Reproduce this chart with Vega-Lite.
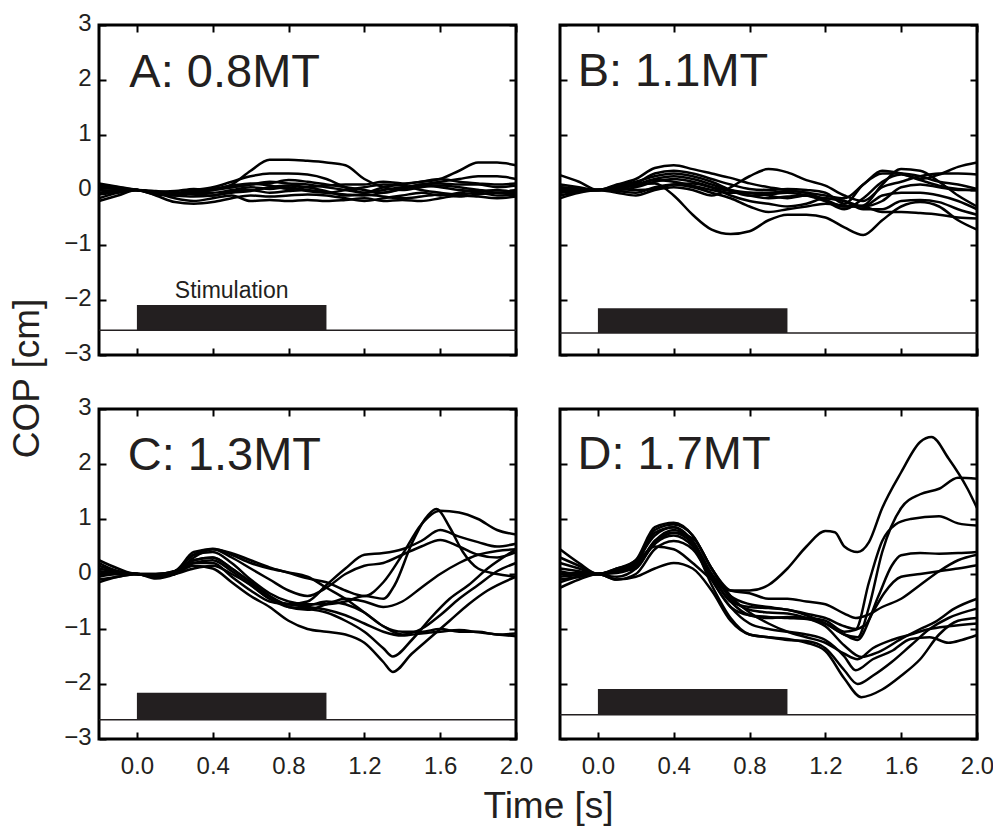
{
"$schema": "https://vega.github.io/schema/vega-lite/v6.json",
"background": "white",
"padding": {"left": 7, "top": 9, "right": 5, "bottom": 5},
"config": {
  "font": "Liberation Sans",
  "view": {"stroke": "black", "strokeWidth": 3},
  "axis": {"grid": false, "domain": false, "ticks": true, "tickColor": "black", "tickWidth": 2, "tickSize": -7, "labelFontSize": 24, "labelColor": "#231f20", "labelFlush": false, "labelOverlap": false, "titleFontSize": 37, "titleFontWeight": "normal", "titleColor": "#231f20"}
},
"bounds": "flush",
"columns": 2,
"spacing": {"row": 54, "column": 44},
"datasets": {
"a": [
{"s":1,"x":-0.2,"y":0.05},{"s":1,"x":-0.1,"y":0.02},{"s":1,"x":0,"y":0},{"s":1,"x":0.1,"y":-0.08},{"s":1,"x":0.2,"y":-0.1},{"s":1,"x":0.3,"y":-0.05},{"s":1,"x":0.4,"y":0},{"s":1,"x":0.5,"y":0.1},{"s":1,"x":0.6,"y":0.35},{"s":1,"x":0.7,"y":0.55},{"s":1,"x":0.8,"y":0.55},{"s":1,"x":0.9,"y":0.53},{"s":1,"x":1,"y":0.5},{"s":1,"x":1.1,"y":0.45},{"s":1,"x":1.2,"y":0.2},{"s":1,"x":1.3,"y":0.05},{"s":1,"x":1.4,"y":0},{"s":1,"x":1.5,"y":0.05},{"s":1,"x":1.6,"y":0.08},{"s":1,"x":1.7,"y":0.05},{"s":1,"x":1.8,"y":0},{"s":1,"x":1.9,"y":-0.05},{"s":1,"x":2,"y":-0.05},
{"s":2,"x":-0.2,"y":-0.05},{"s":2,"x":-0.1,"y":-0.02},{"s":2,"x":0,"y":0},{"s":2,"x":0.1,"y":-0.05},{"s":2,"x":0.2,"y":-0.08},{"s":2,"x":0.3,"y":0},{"s":2,"x":0.4,"y":0.02},{"s":2,"x":0.5,"y":0.05},{"s":2,"x":0.6,"y":0.1},{"s":2,"x":0.7,"y":0.15},{"s":2,"x":0.8,"y":0.12},{"s":2,"x":0.9,"y":0.1},{"s":2,"x":1,"y":0.05},{"s":2,"x":1.1,"y":0},{"s":2,"x":1.2,"y":-0.05},{"s":2,"x":1.3,"y":0.05},{"s":2,"x":1.4,"y":0.1},{"s":2,"x":1.5,"y":0.15},{"s":2,"x":1.6,"y":0.2},{"s":2,"x":1.7,"y":0.35},{"s":2,"x":1.8,"y":0.5},{"s":2,"x":1.9,"y":0.5},{"s":2,"x":2,"y":0.45},
{"s":3,"x":-0.2,"y":0.1},{"s":3,"x":-0.1,"y":0.05},{"s":3,"x":0,"y":0},{"s":3,"x":0.1,"y":-0.05},{"s":3,"x":0.2,"y":-0.05},{"s":3,"x":0.3,"y":0},{"s":3,"x":0.4,"y":0.05},{"s":3,"x":0.5,"y":0.15},{"s":3,"x":0.6,"y":0.25},{"s":3,"x":0.7,"y":0.3},{"s":3,"x":0.8,"y":0.3},{"s":3,"x":0.9,"y":0.28},{"s":3,"x":1,"y":0.2},{"s":3,"x":1.1,"y":0.05},{"s":3,"x":1.2,"y":-0.05},{"s":3,"x":1.3,"y":0},{"s":3,"x":1.4,"y":0.05},{"s":3,"x":1.5,"y":0.1},{"s":3,"x":1.6,"y":0.15},{"s":3,"x":1.7,"y":0.2},{"s":3,"x":1.8,"y":0.25},{"s":3,"x":1.9,"y":0.25},{"s":3,"x":2,"y":0.2},
{"s":4,"x":-0.2,"y":-0.15},{"s":4,"x":-0.1,"y":-0.05},{"s":4,"x":0,"y":0},{"s":4,"x":0.1,"y":-0.1},{"s":4,"x":0.2,"y":-0.22},{"s":4,"x":0.3,"y":-0.25},{"s":4,"x":0.4,"y":-0.22},{"s":4,"x":0.5,"y":-0.15},{"s":4,"x":0.6,"y":-0.1},{"s":4,"x":0.7,"y":-0.12},{"s":4,"x":0.8,"y":-0.1},{"s":4,"x":0.9,"y":-0.08},{"s":4,"x":1,"y":-0.1},{"s":4,"x":1.1,"y":-0.15},{"s":4,"x":1.2,"y":-0.2},{"s":4,"x":1.3,"y":-0.15},{"s":4,"x":1.4,"y":-0.1},{"s":4,"x":1.5,"y":-0.05},{"s":4,"x":1.6,"y":-0.1},{"s":4,"x":1.7,"y":-0.05},{"s":4,"x":1.8,"y":0},{"s":4,"x":1.9,"y":-0.05},{"s":4,"x":2,"y":0},
{"s":5,"x":-0.2,"y":-0.2},{"s":5,"x":-0.1,"y":-0.1},{"s":5,"x":0,"y":0},{"s":5,"x":0.1,"y":-0.05},{"s":5,"x":0.2,"y":-0.15},{"s":5,"x":0.3,"y":-0.2},{"s":5,"x":0.4,"y":-0.15},{"s":5,"x":0.5,"y":-0.1},{"s":5,"x":0.6,"y":-0.2},{"s":5,"x":0.7,"y":-0.18},{"s":5,"x":0.8,"y":-0.2},{"s":5,"x":0.9,"y":-0.18},{"s":5,"x":1,"y":-0.2},{"s":5,"x":1.1,"y":-0.18},{"s":5,"x":1.2,"y":-0.15},{"s":5,"x":1.3,"y":-0.2},{"s":5,"x":1.4,"y":-0.18},{"s":5,"x":1.5,"y":-0.2},{"s":5,"x":1.6,"y":-0.15},{"s":5,"x":1.7,"y":-0.1},{"s":5,"x":1.8,"y":-0.12},{"s":5,"x":1.9,"y":-0.15},{"s":5,"x":2,"y":-0.12},
{"s":6,"x":-0.2,"y":0.08},{"s":6,"x":-0.1,"y":0.03},{"s":6,"x":0,"y":0},{"s":6,"x":0.1,"y":-0.03},{"s":6,"x":0.2,"y":-0.02},{"s":6,"x":0.3,"y":0.02},{"s":6,"x":0.4,"y":0},{"s":6,"x":0.5,"y":0.05},{"s":6,"x":0.6,"y":0.1},{"s":6,"x":0.7,"y":0.12},{"s":6,"x":0.8,"y":0.18},{"s":6,"x":0.9,"y":0.15},{"s":6,"x":1,"y":0.1},{"s":6,"x":1.1,"y":0.05},{"s":6,"x":1.2,"y":0},{"s":6,"x":1.3,"y":-0.05},{"s":6,"x":1.4,"y":0.02},{"s":6,"x":1.5,"y":0.08},{"s":6,"x":1.6,"y":0.05},{"s":6,"x":1.7,"y":0},{"s":6,"x":1.8,"y":-0.02},{"s":6,"x":1.9,"y":0},{"s":6,"x":2,"y":-0.05},
{"s":7,"x":-0.2,"y":0},{"s":7,"x":-0.1,"y":-0.02},{"s":7,"x":0,"y":0},{"s":7,"x":0.1,"y":-0.02},{"s":7,"x":0.2,"y":-0.05},{"s":7,"x":0.3,"y":-0.08},{"s":7,"x":0.4,"y":-0.1},{"s":7,"x":0.5,"y":-0.02},{"s":7,"x":0.6,"y":0},{"s":7,"x":0.7,"y":-0.05},{"s":7,"x":0.8,"y":-0.02},{"s":7,"x":0.9,"y":0},{"s":7,"x":1,"y":-0.05},{"s":7,"x":1.1,"y":-0.08},{"s":7,"x":1.2,"y":-0.1},{"s":7,"x":1.3,"y":-0.05},{"s":7,"x":1.4,"y":0.02},{"s":7,"x":1.5,"y":0.1},{"s":7,"x":1.6,"y":0.12},{"s":7,"x":1.7,"y":0.1},{"s":7,"x":1.8,"y":0.1},{"s":7,"x":1.9,"y":0.05},{"s":7,"x":2,"y":0.08},
{"s":8,"x":-0.2,"y":0.12},{"s":8,"x":-0.1,"y":0.06},{"s":8,"x":0,"y":0},{"s":8,"x":0.1,"y":-0.05},{"s":8,"x":0.2,"y":-0.08},{"s":8,"x":0.3,"y":-0.05},{"s":8,"x":0.4,"y":-0.05},{"s":8,"x":0.5,"y":0},{"s":8,"x":0.6,"y":0.05},{"s":8,"x":0.7,"y":0.02},{"s":8,"x":0.8,"y":0.05},{"s":8,"x":0.9,"y":-0.02},{"s":8,"x":1,"y":-0.05},{"s":8,"x":1.1,"y":0},{"s":8,"x":1.2,"y":0.05},{"s":8,"x":1.3,"y":0.1},{"s":8,"x":1.4,"y":0.08},{"s":8,"x":1.5,"y":0},{"s":8,"x":1.6,"y":-0.05},{"s":8,"x":1.7,"y":-0.08},{"s":8,"x":1.8,"y":-0.05},{"s":8,"x":1.9,"y":-0.1},{"s":8,"x":2,"y":-0.08},
{"s":9,"x":-0.2,"y":-0.08},{"s":9,"x":-0.1,"y":-0.04},{"s":9,"x":0,"y":0},{"s":9,"x":0.1,"y":-0.06},{"s":9,"x":0.2,"y":-0.1},{"s":9,"x":0.3,"y":-0.12},{"s":9,"x":0.4,"y":-0.1},{"s":9,"x":0.5,"y":-0.05},{"s":9,"x":0.6,"y":-0.02},{"s":9,"x":0.7,"y":0.05},{"s":9,"x":0.8,"y":0.08},{"s":9,"x":0.9,"y":0.05},{"s":9,"x":1,"y":-0.02},{"s":9,"x":1.1,"y":-0.1},{"s":9,"x":1.2,"y":-0.08},{"s":9,"x":1.3,"y":-0.12},{"s":9,"x":1.4,"y":-0.15},{"s":9,"x":1.5,"y":-0.12},{"s":9,"x":1.6,"y":-0.08},{"s":9,"x":1.7,"y":-0.12},{"s":9,"x":1.8,"y":-0.08},{"s":9,"x":1.9,"y":-0.05},{"s":9,"x":2,"y":-0.1},
{"s":10,"x":-0.2,"y":0.03},{"s":10,"x":-0.1,"y":0.02},{"s":10,"x":0,"y":0},{"s":10,"x":0.1,"y":-0.04},{"s":10,"x":0.2,"y":-0.06},{"s":10,"x":0.3,"y":-0.03},{"s":10,"x":0.4,"y":0.02},{"s":10,"x":0.5,"y":0.08},{"s":10,"x":0.6,"y":0.12},{"s":10,"x":0.7,"y":0.08},{"s":10,"x":0.8,"y":0.02},{"s":10,"x":0.9,"y":0.05},{"s":10,"x":1,"y":0.08},{"s":10,"x":1.1,"y":0.1},{"s":10,"x":1.2,"y":0.1},{"s":10,"x":1.3,"y":0.15},{"s":10,"x":1.4,"y":0.12},{"s":10,"x":1.5,"y":0.15},{"s":10,"x":1.6,"y":0.2},{"s":10,"x":1.7,"y":0.15},{"s":10,"x":1.8,"y":0.12},{"s":10,"x":1.9,"y":0.1},{"s":10,"x":2,"y":0.12}
],
"b": [
{"s":1,"x":-0.2,"y":0.05},{"s":1,"x":-0.1,"y":0.02},{"s":1,"x":0,"y":0},{"s":1,"x":0.1,"y":0.1},{"s":1,"x":0.2,"y":0.2},{"s":1,"x":0.3,"y":0.4},{"s":1,"x":0.4,"y":0.45},{"s":1,"x":0.5,"y":0.38},{"s":1,"x":0.6,"y":0.3},{"s":1,"x":0.7,"y":0.22},{"s":1,"x":0.8,"y":0.12},{"s":1,"x":0.9,"y":0.05},{"s":1,"x":1,"y":0},{"s":1,"x":1.1,"y":-0.05},{"s":1,"x":1.2,"y":-0.1},{"s":1,"x":1.3,"y":-0.15},{"s":1,"x":1.4,"y":0.1},{"s":1,"x":1.5,"y":0.35},{"s":1,"x":1.6,"y":0.3},{"s":1,"x":1.7,"y":0.2},{"s":1,"x":1.8,"y":0.28},{"s":1,"x":1.9,"y":0.42},{"s":1,"x":2,"y":0.5},
{"s":2,"x":-0.2,"y":0},{"s":2,"x":-0.1,"y":0},{"s":2,"x":0,"y":0},{"s":2,"x":0.1,"y":0.05},{"s":2,"x":0.2,"y":0.1},{"s":2,"x":0.3,"y":0.12},{"s":2,"x":0.4,"y":-0.1},{"s":2,"x":0.5,"y":-0.45},{"s":2,"x":0.6,"y":-0.72},{"s":2,"x":0.7,"y":-0.8},{"s":2,"x":0.8,"y":-0.75},{"s":2,"x":0.9,"y":-0.55},{"s":2,"x":1,"y":-0.45},{"s":2,"x":1.1,"y":-0.45},{"s":2,"x":1.2,"y":-0.5},{"s":2,"x":1.3,"y":-0.68},{"s":2,"x":1.4,"y":-0.82},{"s":2,"x":1.5,"y":-0.55},{"s":2,"x":1.6,"y":-0.3},{"s":2,"x":1.7,"y":-0.22},{"s":2,"x":1.8,"y":-0.3},{"s":2,"x":1.9,"y":-0.55},{"s":2,"x":2,"y":-0.72},
{"s":3,"x":-0.2,"y":-0.15},{"s":3,"x":-0.1,"y":-0.05},{"s":3,"x":0,"y":0},{"s":3,"x":0.1,"y":-0.05},{"s":3,"x":0.2,"y":-0.1},{"s":3,"x":0.3,"y":0},{"s":3,"x":0.4,"y":0.05},{"s":3,"x":0.5,"y":0},{"s":3,"x":0.6,"y":-0.1},{"s":3,"x":0.7,"y":0.05},{"s":3,"x":0.8,"y":0.25},{"s":3,"x":0.9,"y":0.38},{"s":3,"x":1,"y":0.32},{"s":3,"x":1.1,"y":0.18},{"s":3,"x":1.2,"y":0.08},{"s":3,"x":1.3,"y":-0.1},{"s":3,"x":1.4,"y":-0.2},{"s":3,"x":1.5,"y":0.05},{"s":3,"x":1.6,"y":0.15},{"s":3,"x":1.7,"y":0.25},{"s":3,"x":1.8,"y":0.3},{"s":3,"x":1.9,"y":0.3},{"s":3,"x":2,"y":0.28},
{"s":4,"x":-0.2,"y":0.27},{"s":4,"x":-0.1,"y":0.15},{"s":4,"x":0,"y":0},{"s":4,"x":0.1,"y":0.08},{"s":4,"x":0.2,"y":0.15},{"s":4,"x":0.3,"y":0.25},{"s":4,"x":0.4,"y":0.3},{"s":4,"x":0.5,"y":0.25},{"s":4,"x":0.6,"y":0.15},{"s":4,"x":0.7,"y":0},{"s":4,"x":0.8,"y":-0.1},{"s":4,"x":0.9,"y":-0.15},{"s":4,"x":1,"y":-0.12},{"s":4,"x":1.1,"y":-0.1},{"s":4,"x":1.2,"y":-0.18},{"s":4,"x":1.3,"y":-0.3},{"s":4,"x":1.4,"y":-0.28},{"s":4,"x":1.5,"y":0.1},{"s":4,"x":1.6,"y":0.38},{"s":4,"x":1.7,"y":0.35},{"s":4,"x":1.8,"y":0.15},{"s":4,"x":1.9,"y":-0.1},{"s":4,"x":2,"y":-0.3},
{"s":5,"x":-0.2,"y":-0.05},{"s":5,"x":-0.1,"y":0},{"s":5,"x":0,"y":0},{"s":5,"x":0.1,"y":0.05},{"s":5,"x":0.2,"y":0.1},{"s":5,"x":0.3,"y":0.2},{"s":5,"x":0.4,"y":0.25},{"s":5,"x":0.5,"y":0.2},{"s":5,"x":0.6,"y":0.1},{"s":5,"x":0.7,"y":0},{"s":5,"x":0.8,"y":-0.05},{"s":5,"x":0.9,"y":-0.1},{"s":5,"x":1,"y":-0.15},{"s":5,"x":1.1,"y":-0.1},{"s":5,"x":1.2,"y":-0.15},{"s":5,"x":1.3,"y":-0.2},{"s":5,"x":1.4,"y":-0.3},{"s":5,"x":1.5,"y":-0.2},{"s":5,"x":1.6,"y":0.05},{"s":5,"x":1.7,"y":0.1},{"s":5,"x":1.8,"y":0.05},{"s":5,"x":1.9,"y":0},{"s":5,"x":2,"y":0},
{"s":6,"x":-0.2,"y":0.05},{"s":6,"x":-0.1,"y":0.02},{"s":6,"x":0,"y":0},{"s":6,"x":0.1,"y":0},{"s":6,"x":0.2,"y":0.05},{"s":6,"x":0.3,"y":0.15},{"s":6,"x":0.4,"y":0.2},{"s":6,"x":0.5,"y":0.15},{"s":6,"x":0.6,"y":0.05},{"s":6,"x":0.7,"y":-0.1},{"s":6,"x":0.8,"y":-0.2},{"s":6,"x":0.9,"y":-0.25},{"s":6,"x":1,"y":-0.3},{"s":6,"x":1.1,"y":-0.25},{"s":6,"x":1.2,"y":-0.15},{"s":6,"x":1.3,"y":-0.2},{"s":6,"x":1.4,"y":-0.35},{"s":6,"x":1.5,"y":-0.35},{"s":6,"x":1.6,"y":-0.2},{"s":6,"x":1.7,"y":-0.18},{"s":6,"x":1.8,"y":-0.22},{"s":6,"x":1.9,"y":-0.35},{"s":6,"x":2,"y":-0.45},
{"s":7,"x":-0.2,"y":-0.1},{"s":7,"x":-0.1,"y":-0.03},{"s":7,"x":0,"y":0},{"s":7,"x":0.1,"y":-0.02},{"s":7,"x":0.2,"y":-0.05},{"s":7,"x":0.3,"y":0.05},{"s":7,"x":0.4,"y":0.1},{"s":7,"x":0.5,"y":0.05},{"s":7,"x":0.6,"y":-0.05},{"s":7,"x":0.7,"y":-0.15},{"s":7,"x":0.8,"y":-0.3},{"s":7,"x":0.9,"y":-0.4},{"s":7,"x":1,"y":-0.35},{"s":7,"x":1.1,"y":-0.3},{"s":7,"x":1.2,"y":-0.25},{"s":7,"x":1.3,"y":-0.28},{"s":7,"x":1.4,"y":-0.3},{"s":7,"x":1.5,"y":-0.4},{"s":7,"x":1.6,"y":-0.4},{"s":7,"x":1.7,"y":-0.42},{"s":7,"x":1.8,"y":-0.45},{"s":7,"x":1.9,"y":-0.5},{"s":7,"x":2,"y":-0.52},
{"s":8,"x":-0.2,"y":0.1},{"s":8,"x":-0.1,"y":0.05},{"s":8,"x":0,"y":0},{"s":8,"x":0.1,"y":0.03},{"s":8,"x":0.2,"y":0.08},{"s":8,"x":0.3,"y":0.18},{"s":8,"x":0.4,"y":0.15},{"s":8,"x":0.5,"y":0.08},{"s":8,"x":0.6,"y":0},{"s":8,"x":0.7,"y":-0.05},{"s":8,"x":0.8,"y":-0.05},{"s":8,"x":0.9,"y":-0.05},{"s":8,"x":1,"y":-0.02},{"s":8,"x":1.1,"y":-0.05},{"s":8,"x":1.2,"y":-0.2},{"s":8,"x":1.3,"y":-0.35},{"s":8,"x":1.4,"y":-0.15},{"s":8,"x":1.5,"y":0.15},{"s":8,"x":1.6,"y":0.28},{"s":8,"x":1.7,"y":0.18},{"s":8,"x":1.8,"y":0.08},{"s":8,"x":1.9,"y":0.02},{"s":8,"x":2,"y":0},
{"s":9,"x":-0.2,"y":-0.05},{"s":9,"x":-0.1,"y":-0.02},{"s":9,"x":0,"y":0},{"s":9,"x":0.1,"y":0.02},{"s":9,"x":0.2,"y":0},{"s":9,"x":0.3,"y":0.02},{"s":9,"x":0.4,"y":0.1},{"s":9,"x":0.5,"y":0.12},{"s":9,"x":0.6,"y":0.05},{"s":9,"x":0.7,"y":-0.02},{"s":9,"x":0.8,"y":-0.1},{"s":9,"x":0.9,"y":-0.08},{"s":9,"x":1,"y":-0.05},{"s":9,"x":1.1,"y":-0.1},{"s":9,"x":1.2,"y":-0.2},{"s":9,"x":1.3,"y":-0.3},{"s":9,"x":1.4,"y":-0.3},{"s":9,"x":1.5,"y":-0.1},{"s":9,"x":1.6,"y":-0.05},{"s":9,"x":1.7,"y":-0.05},{"s":9,"x":1.8,"y":-0.1},{"s":9,"x":1.9,"y":-0.2},{"s":9,"x":2,"y":-0.35},
{"s":10,"x":-0.2,"y":0.02},{"s":10,"x":-0.1,"y":0},{"s":10,"x":0,"y":0},{"s":10,"x":0.1,"y":0.05},{"s":10,"x":0.2,"y":0.12},{"s":10,"x":0.3,"y":0.3},{"s":10,"x":0.4,"y":0.35},{"s":10,"x":0.5,"y":0.3},{"s":10,"x":0.6,"y":0.2},{"s":10,"x":0.7,"y":0.1},{"s":10,"x":0.8,"y":0.02},{"s":10,"x":0.9,"y":0},{"s":10,"x":1,"y":0.02},{"s":10,"x":1.1,"y":0},{"s":10,"x":1.2,"y":-0.05},{"s":10,"x":1.3,"y":-0.25},{"s":10,"x":1.4,"y":0.1},{"s":10,"x":1.5,"y":0.3},{"s":10,"x":1.6,"y":0.3},{"s":10,"x":1.7,"y":0.25},{"s":10,"x":1.8,"y":0.15},{"s":10,"x":1.9,"y":0.1},{"s":10,"x":2,"y":0.02}
],
"c": [
{"s":1,"x":-0.2,"y":0.2},{"s":1,"x":-0.1,"y":0.05},{"s":1,"x":0,"y":0},{"s":1,"x":0.1,"y":-0.02},{"s":1,"x":0.2,"y":0.05},{"s":1,"x":0.3,"y":0.35},{"s":1,"x":0.4,"y":0.4},{"s":1,"x":0.5,"y":0.2},{"s":1,"x":0.6,"y":-0.1},{"s":1,"x":0.7,"y":-0.35},{"s":1,"x":0.8,"y":-0.5},{"s":1,"x":0.9,"y":-0.55},{"s":1,"x":1,"y":-0.55},{"s":1,"x":1.1,"y":-0.5},{"s":1,"x":1.2,"y":-0.4},{"s":1,"x":1.3,"y":-0.45},{"s":1,"x":1.36,"y":-0.2},{"s":1,"x":1.45,"y":0.55},{"s":1,"x":1.52,"y":1.0},{"s":1,"x":1.58,"y":1.18},{"s":1,"x":1.65,"y":0.85},{"s":1,"x":1.72,"y":0.4},{"s":1,"x":1.8,"y":0.1},{"s":1,"x":1.9,"y":0},{"s":1,"x":2,"y":-0.05},
{"s":2,"x":-0.2,"y":0},{"s":2,"x":-0.1,"y":0},{"s":2,"x":0,"y":0},{"s":2,"x":0.1,"y":-0.05},{"s":2,"x":0.2,"y":0},{"s":2,"x":0.3,"y":0.3},{"s":2,"x":0.4,"y":0.45},{"s":2,"x":0.5,"y":0.38},{"s":2,"x":0.6,"y":0.25},{"s":2,"x":0.7,"y":0.12},{"s":2,"x":0.8,"y":0.02},{"s":2,"x":0.9,"y":-0.08},{"s":2,"x":1,"y":-0.15},{"s":2,"x":1.1,"y":-0.3},{"s":2,"x":1.2,"y":-0.4},{"s":2,"x":1.3,"y":-0.15},{"s":2,"x":1.4,"y":0.35},{"s":2,"x":1.5,"y":0.9},{"s":2,"x":1.6,"y":1.15},{"s":2,"x":1.7,"y":1.12},{"s":2,"x":1.8,"y":1.0},{"s":2,"x":1.9,"y":0.8},{"s":2,"x":2,"y":0.72},
{"s":3,"x":-0.2,"y":-0.1},{"s":3,"x":-0.1,"y":-0.05},{"s":3,"x":0,"y":0},{"s":3,"x":0.1,"y":-0.05},{"s":3,"x":0.2,"y":0},{"s":3,"x":0.3,"y":0.15},{"s":3,"x":0.4,"y":0.1},{"s":3,"x":0.5,"y":-0.15},{"s":3,"x":0.6,"y":-0.4},{"s":3,"x":0.7,"y":-0.6},{"s":3,"x":0.8,"y":-0.85},{"s":3,"x":0.9,"y":-1.0},{"s":3,"x":1,"y":-1.05},{"s":3,"x":1.1,"y":-1.1},{"s":3,"x":1.2,"y":-1.25},{"s":3,"x":1.3,"y":-1.6},{"s":3,"x":1.35,"y":-1.78},{"s":3,"x":1.45,"y":-1.45},{"s":3,"x":1.55,"y":-1.15},{"s":3,"x":1.65,"y":-0.85},{"s":3,"x":1.75,"y":-0.55},{"s":3,"x":1.85,"y":-0.3},{"s":3,"x":2,"y":-0.05},
{"s":4,"x":-0.2,"y":0.05},{"s":4,"x":-0.1,"y":0.02},{"s":4,"x":0,"y":0},{"s":4,"x":0.1,"y":-0.05},{"s":4,"x":0.2,"y":0.02},{"s":4,"x":0.3,"y":0.2},{"s":4,"x":0.4,"y":0.25},{"s":4,"x":0.5,"y":0.05},{"s":4,"x":0.6,"y":-0.2},{"s":4,"x":0.7,"y":-0.45},{"s":4,"x":0.8,"y":-0.6},{"s":4,"x":0.9,"y":-0.63},{"s":4,"x":1,"y":-0.7},{"s":4,"x":1.1,"y":-0.85},{"s":4,"x":1.2,"y":-1.05},{"s":4,"x":1.3,"y":-1.35},{"s":4,"x":1.35,"y":-1.5},{"s":4,"x":1.45,"y":-1.2},{"s":4,"x":1.55,"y":-0.8},{"s":4,"x":1.65,"y":-0.45},{"s":4,"x":1.75,"y":-0.2},{"s":4,"x":1.85,"y":0.1},{"s":4,"x":2,"y":0.45},
{"s":5,"x":-0.2,"y":0.15},{"s":5,"x":-0.1,"y":0.05},{"s":5,"x":0,"y":0},{"s":5,"x":0.1,"y":0},{"s":5,"x":0.2,"y":0.05},{"s":5,"x":0.3,"y":0.35},{"s":5,"x":0.4,"y":0.46},{"s":5,"x":0.5,"y":0.35},{"s":5,"x":0.6,"y":0.2},{"s":5,"x":0.7,"y":0.1},{"s":5,"x":0.8,"y":0.03},{"s":5,"x":0.9,"y":-0.05},{"s":5,"x":1,"y":-0.25},{"s":5,"x":1.1,"y":-0.45},{"s":5,"x":1.2,"y":-0.7},{"s":5,"x":1.3,"y":-0.95},{"s":5,"x":1.4,"y":-1.05},{"s":5,"x":1.5,"y":-1.05},{"s":5,"x":1.6,"y":-1.0},{"s":5,"x":1.7,"y":-1.05},{"s":5,"x":1.8,"y":-1.05},{"s":5,"x":1.9,"y":-1.1},{"s":5,"x":2,"y":-1.08},
{"s":6,"x":-0.2,"y":-0.05},{"s":6,"x":-0.1,"y":0},{"s":6,"x":0,"y":0},{"s":6,"x":0.1,"y":-0.08},{"s":6,"x":0.2,"y":0},{"s":6,"x":0.3,"y":0.2},{"s":6,"x":0.4,"y":0.2},{"s":6,"x":0.5,"y":-0.05},{"s":6,"x":0.6,"y":-0.3},{"s":6,"x":0.7,"y":-0.5},{"s":6,"x":0.8,"y":-0.55},{"s":6,"x":0.9,"y":-0.6},{"s":6,"x":1,"y":-0.65},{"s":6,"x":1.1,"y":-0.75},{"s":6,"x":1.2,"y":-0.9},{"s":6,"x":1.3,"y":-1.05},{"s":6,"x":1.4,"y":-1.12},{"s":6,"x":1.5,"y":-1.08},{"s":6,"x":1.6,"y":-1.05},{"s":6,"x":1.7,"y":-1.02},{"s":6,"x":1.8,"y":-1.06},{"s":6,"x":1.9,"y":-1.1},{"s":6,"x":2,"y":-1.13},
{"s":7,"x":-0.2,"y":0.1},{"s":7,"x":-0.1,"y":0.03},{"s":7,"x":0,"y":0},{"s":7,"x":0.1,"y":-0.05},{"s":7,"x":0.2,"y":0.05},{"s":7,"x":0.3,"y":0.25},{"s":7,"x":0.4,"y":0.3},{"s":7,"x":0.5,"y":0.1},{"s":7,"x":0.6,"y":-0.15},{"s":7,"x":0.7,"y":-0.4},{"s":7,"x":0.8,"y":-0.55},{"s":7,"x":0.9,"y":-0.5},{"s":7,"x":1,"y":-0.2},{"s":7,"x":1.1,"y":0.1},{"s":7,"x":1.2,"y":0.35},{"s":7,"x":1.3,"y":0.38},{"s":7,"x":1.4,"y":0.45},{"s":7,"x":1.5,"y":0.6},{"s":7,"x":1.6,"y":0.8},{"s":7,"x":1.7,"y":0.68},{"s":7,"x":1.8,"y":0.58},{"s":7,"x":1.9,"y":0.5},{"s":7,"x":2,"y":0.55},
{"s":8,"x":-0.2,"y":0.25},{"s":8,"x":-0.1,"y":0.1},{"s":8,"x":0,"y":0},{"s":8,"x":0.1,"y":0},{"s":8,"x":0.2,"y":0.05},{"s":8,"x":0.3,"y":0.4},{"s":8,"x":0.4,"y":0.45},{"s":8,"x":0.5,"y":0.3},{"s":8,"x":0.6,"y":0.1},{"s":8,"x":0.7,"y":-0.1},{"s":8,"x":0.8,"y":-0.3},{"s":8,"x":0.9,"y":-0.4},{"s":8,"x":1,"y":-0.25},{"s":8,"x":1.1,"y":0},{"s":8,"x":1.2,"y":0.15},{"s":8,"x":1.3,"y":0.2},{"s":8,"x":1.4,"y":0.35},{"s":8,"x":1.5,"y":0.5},{"s":8,"x":1.6,"y":0.62},{"s":8,"x":1.7,"y":0.5},{"s":8,"x":1.8,"y":0.35},{"s":8,"x":1.9,"y":0.3},{"s":8,"x":2,"y":0.4},
{"s":9,"x":-0.2,"y":-0.15},{"s":9,"x":-0.1,"y":-0.05},{"s":9,"x":0,"y":0},{"s":9,"x":0.1,"y":-0.05},{"s":9,"x":0.2,"y":0},{"s":9,"x":0.3,"y":0.1},{"s":9,"x":0.4,"y":0.15},{"s":9,"x":0.5,"y":0},{"s":9,"x":0.6,"y":-0.2},{"s":9,"x":0.7,"y":-0.45},{"s":9,"x":0.8,"y":-0.55},{"s":9,"x":0.9,"y":-0.57},{"s":9,"x":1,"y":-0.5},{"s":9,"x":1.1,"y":-0.55},{"s":9,"x":1.2,"y":-0.7},{"s":9,"x":1.3,"y":-0.95},{"s":9,"x":1.4,"y":-1.1},{"s":9,"x":1.5,"y":-1.0},{"s":9,"x":1.6,"y":-0.75},{"s":9,"x":1.7,"y":-0.45},{"s":9,"x":1.8,"y":-0.2},{"s":9,"x":1.9,"y":0.05},{"s":9,"x":2,"y":0.2},
{"s":10,"x":-0.2,"y":0.05},{"s":10,"x":-0.1,"y":0},{"s":10,"x":0,"y":0},{"s":10,"x":0.1,"y":-0.03},{"s":10,"x":0.2,"y":0.02},{"s":10,"x":0.3,"y":0.25},{"s":10,"x":0.4,"y":0.3},{"s":10,"x":0.5,"y":0.1},{"s":10,"x":0.6,"y":-0.15},{"s":10,"x":0.7,"y":-0.4},{"s":10,"x":0.8,"y":-0.6},{"s":10,"x":0.9,"y":-0.65},{"s":10,"x":1,"y":-0.55},{"s":10,"x":1.1,"y":-0.45},{"s":10,"x":1.2,"y":-0.5},{"s":10,"x":1.3,"y":-0.6},{"s":10,"x":1.4,"y":-0.5},{"s":10,"x":1.5,"y":-0.25},{"s":10,"x":1.6,"y":0},{"s":10,"x":1.7,"y":0.2},{"s":10,"x":1.8,"y":0.35},{"s":10,"x":1.9,"y":0.42},{"s":10,"x":2,"y":0.45}
],
"d": [
{"s":1,"x":-0.2,"y":0.45},{"s":1,"x":-0.1,"y":0.2},{"s":1,"x":0,"y":0},{"s":1,"x":0.1,"y":0.05},{"s":1,"x":0.2,"y":0.2},{"s":1,"x":0.3,"y":0.5},{"s":1,"x":0.4,"y":0.45},{"s":1,"x":0.5,"y":0.2},{"s":1,"x":0.6,"y":-0.1},{"s":1,"x":0.7,"y":-0.3},{"s":1,"x":0.8,"y":-0.3},{"s":1,"x":0.9,"y":-0.2},{"s":1,"x":1,"y":0.1},{"s":1,"x":1.1,"y":0.5},{"s":1,"x":1.2,"y":0.78},{"s":1,"x":1.25,"y":0.76},{"s":1,"x":1.3,"y":0.5},{"s":1,"x":1.37,"y":0.4},{"s":1,"x":1.43,"y":0.58},{"s":1,"x":1.5,"y":1.2},{"s":1,"x":1.6,"y":1.85},{"s":1,"x":1.7,"y":2.4},{"s":1,"x":1.76,"y":2.49},{"s":1,"x":1.85,"y":2.1},{"s":1,"x":1.95,"y":1.55},{"s":1,"x":2,"y":1.2},
{"s":2,"x":-0.2,"y":0},{"s":2,"x":-0.1,"y":0.02},{"s":2,"x":0,"y":0},{"s":2,"x":0.1,"y":0.1},{"s":2,"x":0.2,"y":0.25},{"s":2,"x":0.3,"y":0.7},{"s":2,"x":0.4,"y":0.85},{"s":2,"x":0.5,"y":0.6},{"s":2,"x":0.6,"y":0},{"s":2,"x":0.7,"y":-0.5},{"s":2,"x":0.8,"y":-0.6},{"s":2,"x":0.9,"y":-0.62},{"s":2,"x":1,"y":-0.65},{"s":2,"x":1.1,"y":-0.75},{"s":2,"x":1.2,"y":-0.9},{"s":2,"x":1.3,"y":-1.1},{"s":2,"x":1.37,"y":-1.15},{"s":2,"x":1.43,"y":-0.6},{"s":2,"x":1.5,"y":0.4},{"s":2,"x":1.6,"y":1.2},{"s":2,"x":1.7,"y":1.45},{"s":2,"x":1.8,"y":1.55},{"s":2,"x":1.9,"y":1.75},{"s":2,"x":2,"y":1.73},
{"s":3,"x":-0.2,"y":-0.05},{"s":3,"x":-0.1,"y":-0.02},{"s":3,"x":0,"y":0},{"s":3,"x":0.1,"y":0.05},{"s":3,"x":0.2,"y":0.15},{"s":3,"x":0.3,"y":0.6},{"s":3,"x":0.4,"y":0.75},{"s":3,"x":0.5,"y":0.55},{"s":3,"x":0.6,"y":0},{"s":3,"x":0.7,"y":-0.4},{"s":3,"x":0.8,"y":-0.55},{"s":3,"x":0.9,"y":-0.6},{"s":3,"x":1,"y":-0.65},{"s":3,"x":1.1,"y":-0.72},{"s":3,"x":1.2,"y":-0.8},{"s":3,"x":1.3,"y":-0.95},{"s":3,"x":1.36,"y":-1.0},{"s":3,"x":1.43,"y":-0.15},{"s":3,"x":1.5,"y":0.6},{"s":3,"x":1.57,"y":0.9},{"s":3,"x":1.65,"y":1.0},{"s":3,"x":1.8,"y":1.05},{"s":3,"x":1.9,"y":0.92},{"s":3,"x":2,"y":0.88},
{"s":4,"x":-0.2,"y":0.1},{"s":4,"x":-0.1,"y":0.05},{"s":4,"x":0,"y":0},{"s":4,"x":0.1,"y":-0.05},{"s":4,"x":0.2,"y":0.1},{"s":4,"x":0.3,"y":0.55},{"s":4,"x":0.4,"y":0.7},{"s":4,"x":0.5,"y":0.5},{"s":4,"x":0.6,"y":-0.05},{"s":4,"x":0.7,"y":-0.5},{"s":4,"x":0.8,"y":-0.75},{"s":4,"x":0.9,"y":-0.8},{"s":4,"x":1,"y":-0.78},{"s":4,"x":1.1,"y":-0.8},{"s":4,"x":1.2,"y":-0.85},{"s":4,"x":1.3,"y":-1.05},{"s":4,"x":1.41,"y":-0.93},{"s":4,"x":1.48,"y":-0.4},{"s":4,"x":1.55,"y":0.15},{"s":4,"x":1.6,"y":0.34},{"s":4,"x":1.7,"y":0.38},{"s":4,"x":1.8,"y":0.37},{"s":4,"x":1.9,"y":0.38},{"s":4,"x":2,"y":0.4},
{"s":5,"x":-0.2,"y":-0.15},{"s":5,"x":-0.1,"y":-0.05},{"s":5,"x":0,"y":0},{"s":5,"x":0.1,"y":-0.1},{"s":5,"x":0.2,"y":0},{"s":5,"x":0.3,"y":0.45},{"s":5,"x":0.4,"y":0.6},{"s":5,"x":0.5,"y":0.45},{"s":5,"x":0.6,"y":-0.1},{"s":5,"x":0.7,"y":-0.6},{"s":5,"x":0.8,"y":-0.75},{"s":5,"x":0.9,"y":-0.78},{"s":5,"x":1,"y":-0.8},{"s":5,"x":1.1,"y":-0.82},{"s":5,"x":1.2,"y":-0.9},{"s":5,"x":1.3,"y":-1.1},{"s":5,"x":1.37,"y":-1.2},{"s":5,"x":1.45,"y":-0.7},{"s":5,"x":1.51,"y":-0.35},{"s":5,"x":1.6,"y":-0.05},{"s":5,"x":1.7,"y":0},{"s":5,"x":1.8,"y":0.05},{"s":5,"x":1.9,"y":0.1},{"s":5,"x":2,"y":0.16},
{"s":6,"x":-0.2,"y":0.2},{"s":6,"x":-0.1,"y":0.1},{"s":6,"x":0,"y":0},{"s":6,"x":0.1,"y":0.05},{"s":6,"x":0.2,"y":0.2},{"s":6,"x":0.3,"y":0.8},{"s":6,"x":0.4,"y":0.9},{"s":6,"x":0.5,"y":0.7},{"s":6,"x":0.6,"y":0.1},{"s":6,"x":0.7,"y":-0.3},{"s":6,"x":0.8,"y":-0.35},{"s":6,"x":0.9,"y":-0.45},{"s":6,"x":1,"y":-0.45},{"s":6,"x":1.1,"y":-0.5},{"s":6,"x":1.2,"y":-0.55},{"s":6,"x":1.3,"y":-0.72},{"s":6,"x":1.36,"y":-0.8},{"s":6,"x":1.42,"y":-0.75},{"s":6,"x":1.5,"y":-0.6},{"s":6,"x":1.6,"y":-0.45},{"s":6,"x":1.7,"y":-0.2},{"s":6,"x":1.8,"y":0.05},{"s":6,"x":1.9,"y":0.25},{"s":6,"x":2,"y":0.35},
{"s":7,"x":-0.2,"y":-0.25},{"s":7,"x":-0.1,"y":-0.1},{"s":7,"x":0,"y":0},{"s":7,"x":0.1,"y":-0.1},{"s":7,"x":0.2,"y":-0.05},{"s":7,"x":0.3,"y":0.1},{"s":7,"x":0.4,"y":0.2},{"s":7,"x":0.5,"y":0.1},{"s":7,"x":0.6,"y":-0.3},{"s":7,"x":0.7,"y":-0.85},{"s":7,"x":0.8,"y":-1.1},{"s":7,"x":0.9,"y":-1.15},{"s":7,"x":1,"y":-1.18},{"s":7,"x":1.1,"y":-1.25},{"s":7,"x":1.2,"y":-1.4},{"s":7,"x":1.3,"y":-1.9},{"s":7,"x":1.39,"y":-2.24},{"s":7,"x":1.5,"y":-2.1},{"s":7,"x":1.6,"y":-1.85},{"s":7,"x":1.7,"y":-1.55},{"s":7,"x":1.8,"y":-1.1},{"s":7,"x":1.9,"y":-0.85},{"s":7,"x":2,"y":-0.8},
{"s":8,"x":-0.2,"y":0.05},{"s":8,"x":-0.1,"y":0},{"s":8,"x":0,"y":0},{"s":8,"x":0.1,"y":0.1},{"s":8,"x":0.2,"y":0.2},{"s":8,"x":0.3,"y":0.75},{"s":8,"x":0.4,"y":0.85},{"s":8,"x":0.5,"y":0.55},{"s":8,"x":0.6,"y":-0.2},{"s":8,"x":0.7,"y":-0.8},{"s":8,"x":0.8,"y":-1.1},{"s":8,"x":0.9,"y":-1.15},{"s":8,"x":1,"y":-1.2},{"s":8,"x":1.1,"y":-1.22},{"s":8,"x":1.2,"y":-1.35},{"s":8,"x":1.3,"y":-1.75},{"s":8,"x":1.37,"y":-2.0},{"s":8,"x":1.45,"y":-1.85},{"s":8,"x":1.55,"y":-1.6},{"s":8,"x":1.65,"y":-1.3},{"s":8,"x":1.75,"y":-1.0},{"s":8,"x":1.85,"y":-0.8},{"s":8,"x":2,"y":-0.63},
{"s":9,"x":-0.2,"y":-0.1},{"s":9,"x":-0.1,"y":-0.05},{"s":9,"x":0,"y":0},{"s":9,"x":0.1,"y":0.05},{"s":9,"x":0.2,"y":0.1},{"s":9,"x":0.3,"y":0.6},{"s":9,"x":0.4,"y":0.8},{"s":9,"x":0.5,"y":0.6},{"s":9,"x":0.6,"y":-0.1},{"s":9,"x":0.7,"y":-0.6},{"s":9,"x":0.8,"y":-0.9},{"s":9,"x":0.9,"y":-1.0},{"s":9,"x":1,"y":-1.05},{"s":9,"x":1.1,"y":-1.1},{"s":9,"x":1.2,"y":-1.2},{"s":9,"x":1.3,"y":-1.5},{"s":9,"x":1.36,"y":-1.75},{"s":9,"x":1.45,"y":-1.55},{"s":9,"x":1.55,"y":-1.4},{"s":9,"x":1.65,"y":-1.18},{"s":9,"x":1.75,"y":-1.15},{"s":9,"x":1.85,"y":-1.25},{"s":9,"x":1.92,"y":-1.2},{"s":9,"x":2,"y":-1.11},
{"s":10,"x":-0.2,"y":0.3},{"s":10,"x":-0.1,"y":0.15},{"s":10,"x":0,"y":0},{"s":10,"x":0.1,"y":0.02},{"s":10,"x":0.2,"y":0.15},{"s":10,"x":0.3,"y":0.55},{"s":10,"x":0.4,"y":0.75},{"s":10,"x":0.5,"y":0.65},{"s":10,"x":0.6,"y":0.1},{"s":10,"x":0.7,"y":-0.45},{"s":10,"x":0.8,"y":-0.65},{"s":10,"x":0.9,"y":-0.7},{"s":10,"x":1,"y":-0.72},{"s":10,"x":1.1,"y":-0.8},{"s":10,"x":1.2,"y":-0.95},{"s":10,"x":1.3,"y":-1.3},{"s":10,"x":1.39,"y":-1.51},{"s":10,"x":1.48,"y":-1.42},{"s":10,"x":1.6,"y":-1.18},{"s":10,"x":1.7,"y":-1.0},{"s":10,"x":1.78,"y":-0.87},{"s":10,"x":1.88,"y":-0.63},{"s":10,"x":2,"y":-0.45},
{"s":11,"x":-0.2,"y":0},{"s":11,"x":-0.1,"y":0},{"s":11,"x":0,"y":0},{"s":11,"x":0.1,"y":0.08},{"s":11,"x":0.2,"y":0.25},{"s":11,"x":0.3,"y":0.85},{"s":11,"x":0.4,"y":0.93},{"s":11,"x":0.5,"y":0.7},{"s":11,"x":0.6,"y":0.1},{"s":11,"x":0.7,"y":-0.4},{"s":11,"x":0.8,"y":-0.7},{"s":11,"x":0.9,"y":-0.9},{"s":11,"x":1,"y":-1.05},{"s":11,"x":1.1,"y":-1.15},{"s":11,"x":1.2,"y":-1.25},{"s":11,"x":1.3,"y":-1.45},{"s":11,"x":1.37,"y":-1.55},{"s":11,"x":1.45,"y":-1.35},{"s":11,"x":1.55,"y":-1.2},{"s":11,"x":1.65,"y":-1.1},{"s":11,"x":1.75,"y":-1.0},{"s":11,"x":1.85,"y":-0.95},{"s":11,"x":2,"y":-0.9}
]
},
"concat": [
{
"width": 417, "height": 330,
"layer": [
{"data": {"name": "a"}, "mark": {"type": "line", "color": "black", "strokeWidth": 2.5, "interpolate": "monotone"},
 "encoding": {
  "x": {"field": "x", "type": "quantitative", "scale": {"domain": [-0.2, 2], "nice": false, "zero": false}, "axis": {"orient": "bottom", "values": [0, 0.4, 0.8, 1.2, 1.6, 2], "labels": false, "title": null}},
  "y": {"field": "y", "type": "quantitative", "scale": {"domain": [-3, 3], "nice": false, "zero": false}, "axis": {"orient": "left", "values": [-3, -2, -1, 0, 1, 2, 3], "labelPadding": 15, "labelOffset": -2, "title": "COP [cm]", "titlePadding": 17, "titleY": 353}},
  "detail": {"field": "s", "type": "nominal"}}},
{"data": {"values": [{}]}, "mark": {"type": "rect", "color": "#231f20"},
 "encoding": {
  "x": {"datum": 0, "type": "quantitative", "scale": {"domain": [-0.2, 2], "nice": false, "zero": false}, "axis": {"orient": "top", "values": [0, 0.4, 0.8, 1.2, 1.6, 2], "labels": false, "title": null}},
  "x2": {"datum": 1},
  "y": {"datum": -2.55, "type": "quantitative", "scale": {"domain": [-3, 3], "nice": false, "zero": false}, "axis": {"orient": "right", "values": [-3, -2, -1, 0, 1, 2, 3], "labels": false, "title": null}},
  "y2": {"datum": -2.09}}},
{"data": {"values": [{}]}, "mark": {"type": "rule", "color": "#231f20", "strokeWidth": 1.6},
 "encoding": {"y": {"datum": -2.55, "type": "quantitative", "scale": {"domain": [-3, 3], "nice": false, "zero": false}, "axis": null}}},
{"data": {"values": [{}]}, "mark": {"type": "text", "fontSize": 47, "align": "left", "baseline": "alphabetic", "color": "#231f20"},
 "encoding": {
  "x": {"datum": -0.04, "type": "quantitative", "scale": {"domain": [-0.2, 2], "nice": false, "zero": false}, "axis": null},
  "y": {"datum": 1.88, "type": "quantitative", "scale": {"domain": [-3, 3], "nice": false, "zero": false}, "axis": null},
  "text": {"value": "A: 0.8MT"}}},
{"data": {"values": [{}]}, "mark": {"type": "text", "fontSize": 23, "align": "center", "baseline": "alphabetic", "color": "#231f20"},
 "encoding": {
  "x": {"datum": 0.5, "type": "quantitative", "scale": {"domain": [-0.2, 2], "nice": false, "zero": false}, "axis": null},
  "y": {"datum": -1.96, "type": "quantitative", "scale": {"domain": [-3, 3], "nice": false, "zero": false}, "axis": null},
  "text": {"value": "Stimulation"}}}
],
"resolve": {"axis": {"x": "independent", "y": "independent"}}
},
{
"width": 417, "height": 330,
"layer": [
{"data": {"name": "b"}, "mark": {"type": "line", "color": "black", "strokeWidth": 2.5, "interpolate": "monotone"},
 "encoding": {
  "x": {"field": "x", "type": "quantitative", "scale": {"domain": [-0.2, 2], "nice": false, "zero": false}, "axis": {"orient": "bottom", "values": [0, 0.4, 0.8, 1.2, 1.6, 2], "labels": false, "title": null}},
  "y": {"field": "y", "type": "quantitative", "scale": {"domain": [-3, 3], "nice": false, "zero": false}, "axis": {"orient": "left", "values": [-3, -2, -1, 0, 1, 2, 3], "labels": false, "title": null}},
  "detail": {"field": "s", "type": "nominal"}}},
{"data": {"values": [{}]}, "mark": {"type": "rect", "color": "#231f20"},
 "encoding": {
  "x": {"datum": 0, "type": "quantitative", "scale": {"domain": [-0.2, 2], "nice": false, "zero": false}, "axis": {"orient": "top", "values": [0, 0.4, 0.8, 1.2, 1.6, 2], "labels": false, "title": null}},
  "x2": {"datum": 1},
  "y": {"datum": -2.6, "type": "quantitative", "scale": {"domain": [-3, 3], "nice": false, "zero": false}, "axis": {"orient": "right", "values": [-3, -2, -1, 0, 1, 2, 3], "labels": false, "title": null}},
  "y2": {"datum": -2.15}}},
{"data": {"values": [{}]}, "mark": {"type": "rule", "color": "#231f20", "strokeWidth": 1.6},
 "encoding": {"y": {"datum": -2.6, "type": "quantitative", "scale": {"domain": [-3, 3], "nice": false, "zero": false}, "axis": null}}},
{"data": {"values": [{}]}, "mark": {"type": "text", "fontSize": 47, "align": "left", "baseline": "alphabetic", "color": "#231f20"},
 "encoding": {
  "x": {"datum": -0.107, "type": "quantitative", "scale": {"domain": [-0.2, 2], "nice": false, "zero": false}, "axis": null},
  "y": {"datum": 1.9, "type": "quantitative", "scale": {"domain": [-3, 3], "nice": false, "zero": false}, "axis": null},
  "text": {"value": "B: 1.1MT"}}}
],
"resolve": {"axis": {"x": "independent", "y": "independent"}}
},
{
"width": 417, "height": 330,
"layer": [
{"data": {"name": "c"}, "mark": {"type": "line", "color": "black", "strokeWidth": 2.5, "interpolate": "monotone"},
 "encoding": {
  "x": {"field": "x", "type": "quantitative", "scale": {"domain": [-0.2, 2], "nice": false, "zero": false}, "axis": {"orient": "bottom", "values": [0, 0.4, 0.8, 1.2, 1.6, 2], "format": ".1f", "labelPadding": 22, "title": "Time [s]", "titleX": 449, "titlePadding": 10}},
  "y": {"field": "y", "type": "quantitative", "scale": {"domain": [-3, 3], "nice": false, "zero": false}, "axis": {"orient": "left", "values": [-3, -2, -1, 0, 1, 2, 3], "labelPadding": 15, "labelOffset": -2, "title": null}},
  "detail": {"field": "s", "type": "nominal"}}},
{"data": {"values": [{}]}, "mark": {"type": "rect", "color": "#231f20"},
 "encoding": {
  "x": {"datum": 0, "type": "quantitative", "scale": {"domain": [-0.2, 2], "nice": false, "zero": false}, "axis": {"orient": "top", "values": [0, 0.4, 0.8, 1.2, 1.6, 2], "labels": false, "title": null}},
  "x2": {"datum": 1},
  "y": {"datum": -2.65, "type": "quantitative", "scale": {"domain": [-3, 3], "nice": false, "zero": false}, "axis": {"orient": "right", "values": [-3, -2, -1, 0, 1, 2, 3], "labels": false, "title": null}},
  "y2": {"datum": -2.16}}},
{"data": {"values": [{}]}, "mark": {"type": "rule", "color": "#231f20", "strokeWidth": 1.6},
 "encoding": {"y": {"datum": -2.65, "type": "quantitative", "scale": {"domain": [-3, 3], "nice": false, "zero": false}, "axis": null}}},
{"data": {"values": [{}]}, "mark": {"type": "text", "fontSize": 47, "align": "left", "baseline": "alphabetic", "color": "#231f20"},
 "encoding": {
  "x": {"datum": -0.048, "type": "quantitative", "scale": {"domain": [-0.2, 2], "nice": false, "zero": false}, "axis": null},
  "y": {"datum": 1.9, "type": "quantitative", "scale": {"domain": [-3, 3], "nice": false, "zero": false}, "axis": null},
  "text": {"value": "C: 1.3MT"}}}
],
"resolve": {"axis": {"x": "independent", "y": "independent"}}
},
{
"width": 417, "height": 330,
"layer": [
{"data": {"name": "d"}, "mark": {"type": "line", "color": "black", "strokeWidth": 2.5, "interpolate": "monotone"},
 "encoding": {
  "x": {"field": "x", "type": "quantitative", "scale": {"domain": [-0.2, 2], "nice": false, "zero": false}, "axis": {"orient": "bottom", "values": [0, 0.4, 0.8, 1.2, 1.6, 2], "format": ".1f", "labelPadding": 22, "title": null}},
  "y": {"field": "y", "type": "quantitative", "scale": {"domain": [-3, 3], "nice": false, "zero": false}, "axis": {"orient": "left", "values": [-3, -2, -1, 0, 1, 2, 3], "labels": false, "title": null}},
  "detail": {"field": "s", "type": "nominal"}}},
{"data": {"values": [{}]}, "mark": {"type": "rect", "color": "#231f20"},
 "encoding": {
  "x": {"datum": 0, "type": "quantitative", "scale": {"domain": [-0.2, 2], "nice": false, "zero": false}, "axis": {"orient": "top", "values": [0, 0.4, 0.8, 1.2, 1.6, 2], "labels": false, "title": null}},
  "x2": {"datum": 1},
  "y": {"datum": -2.56, "type": "quantitative", "scale": {"domain": [-3, 3], "nice": false, "zero": false}, "axis": {"orient": "right", "values": [-3, -2, -1, 0, 1, 2, 3], "labels": false, "title": null}},
  "y2": {"datum": -2.09}}},
{"data": {"values": [{}]}, "mark": {"type": "rule", "color": "#231f20", "strokeWidth": 1.6},
 "encoding": {"y": {"datum": -2.56, "type": "quantitative", "scale": {"domain": [-3, 3], "nice": false, "zero": false}, "axis": null}}},
{"data": {"values": [{}]}, "mark": {"type": "text", "fontSize": 47, "align": "left", "baseline": "alphabetic", "color": "#231f20"},
 "encoding": {
  "x": {"datum": -0.108, "type": "quantitative", "scale": {"domain": [-0.2, 2], "nice": false, "zero": false}, "axis": null},
  "y": {"datum": 1.91, "type": "quantitative", "scale": {"domain": [-3, 3], "nice": false, "zero": false}, "axis": null},
  "text": {"value": "D: 1.7MT"}}}
],
"resolve": {"axis": {"x": "independent", "y": "independent"}}
}
]
}
